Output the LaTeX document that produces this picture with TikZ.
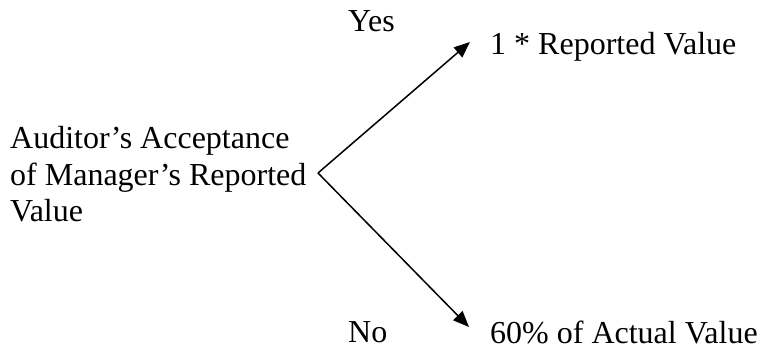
\documentclass[tikz,border=0pt]{standalone}
\usepackage{fontspec}
\setmainfont{Liberation Serif}
\usetikzlibrary{arrows.meta}
\begin{document}
\begin{tikzpicture}[x=1pt,y=1pt,
  lbl/.style={inner sep=0pt, anchor=base west, font=\fontsize{32}{36.5}\selectfont},
  arr/.style={line width=1.5pt, -{Triangle[length=16pt,width=13pt]}}]
\useasboundingbox (0,0) rectangle (763,350);
\node[lbl, align=left] (src) at (10,128) {Auditor’s Acceptance\\of Manager’s Reported\\Value};
\node[lbl] (yes) at (348,318) {Yes};
\node[lbl] (no) at (348,7) {No};
\node[lbl] (res1) at (490,295) {1 * Reported Value};
\node[lbl] (res2) at (490,6) {60\% of Actual Value};
\coordinate (apex) at (318,177);
\coordinate (tipY) at (470,308);
\coordinate (tipN) at (469,23);
\draw[arr] (apex) -- (tipY);
\draw[arr] (apex) -- (tipN);
\end{tikzpicture}
\end{document}
